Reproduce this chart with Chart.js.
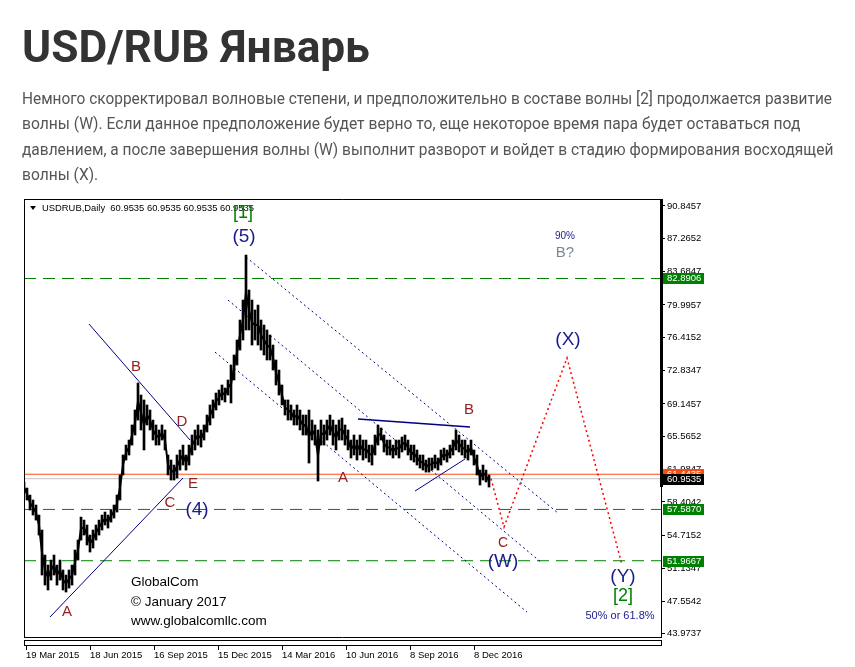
<!DOCTYPE html>
<html>
<head>
<meta charset="utf-8">
<script src="https://cdn.jsdelivr.net/npm/chart.js@4.4.1/dist/chart.umd.min.js"></script>
<style>
    html, body { margin: 0; padding: 0; background: #fff; width: 855px; height: 667px; overflow: hidden; }
    #chart { position: absolute; left: 0; top: 0; }
    .txt { position: absolute; left: 22px; white-space: nowrap; transform-origin: 0 0; }
    #title { font: bold 44px Roboto, sans-serif; color: #333; line-height: 44px; top: 25px; }
    .ln { font: 17px Roboto, sans-serif; color: #555; line-height: 17px; }
</style>
</head>
<body>
<canvas id="chart" width="855" height="667"></canvas>
<div id="title" class="txt" data-w="348">USD/RUB Январь</div>
<div class="txt ln" data-w="810" style="top:90px">Немного скорректировал волновые степени, и предположительно в составе волны [2] продолжается развитие</div>
<div class="txt ln" data-w="778" style="top:115px">волны (W). Если данное предположение будет верно то, еще некоторое время пара будет оставаться под</div>
<div class="txt ln" data-w="811" style="top:141px">давлением, а после завершения волны (W) выполнит разворот и войдет в стадию формирования восходящей</div>
<div class="txt ln" data-w="76" style="top:166px">волны (X).</div>

<script>
// USDRUB daily, one sample every 3 trading days (high / low)
const sampleStep = 3;
const priceHigh = [
    60.59, 59.93, 59.16, 58.62, 58.07, 56.97, 55.33, 52.59, 51.49, 52.04,
    52.59, 51.49, 52.04, 50.95, 50.40, 50.95, 51.49, 53.14, 54.23, 56.75,
    56.42, 55.88, 54.78, 55.33, 55.88, 56.42, 56.97, 57.30, 56.97, 57.52,
    58.07, 59.16, 61.36, 63.55, 64.64, 65.19, 66.84, 68.48, 71.44, 70.12,
    69.58, 69.03, 68.48, 67.38, 66.84, 66.29, 66.84, 66.29, 63.55, 63.00,
    62.45, 63.55, 64.10, 64.64, 63.55, 64.64, 65.74, 66.29, 66.84, 66.29,
    66.84, 67.93, 69.03, 69.58, 70.34, 70.67, 71.22, 70.89, 71.77, 73.41,
    74.51, 76.15, 78.34, 80.53, 85.46, 81.63, 80.53, 79.44, 79.98, 78.34,
    77.79, 77.25, 76.70, 75.60, 73.96, 72.86, 71.22, 69.58, 69.58, 69.03,
    68.48, 69.03, 68.48, 67.93, 67.93, 68.48, 67.38, 66.84, 66.29, 67.38,
    66.84, 67.38, 67.93, 67.38, 66.84, 67.38, 67.60, 66.84, 66.29, 65.19,
    65.74, 65.19, 65.74, 65.19, 65.19, 64.64, 64.64, 65.74, 66.84, 66.51,
    65.74, 65.19, 65.19, 64.64, 65.19, 65.19, 65.52, 65.74, 65.19, 64.64,
    64.64, 64.10, 63.55, 63.55, 63.00, 63.22, 63.22, 63.55, 63.22, 64.10,
    64.31, 64.10, 64.64, 65.19, 66.29, 65.74, 65.19, 65.19, 64.64, 65.19,
    64.10, 63.55, 61.90, 62.45, 61.90, 61.36
];
const priceLow = [
    59.49, 58.62, 57.52, 56.97, 56.42, 54.78, 50.40, 49.30, 48.76, 49.85,
    50.40, 49.30, 49.85, 48.76, 48.54, 48.97, 49.30, 50.40, 52.04, 54.23,
    54.78, 53.69, 52.92, 53.36, 54.23, 54.78, 55.33, 55.88, 55.55, 56.20,
    56.64, 57.30, 58.62, 61.36, 63.00, 63.55, 64.64, 65.74, 67.38, 66.29,
    64.10, 66.84, 66.29, 65.19, 64.64, 64.64, 65.19, 64.10, 61.36, 60.81,
    60.81, 61.03, 61.90, 62.45, 61.90, 62.45, 63.55, 64.10, 64.64, 64.42,
    65.19, 66.07, 66.84, 67.60, 68.48, 69.03, 69.58, 69.36, 70.12, 69.25,
    71.77, 73.41, 75.05, 76.15, 77.25, 77.25, 75.60, 76.15, 75.60, 75.05,
    74.51, 73.96, 73.96, 72.86, 71.22, 70.12, 69.03, 67.93, 67.38, 67.38,
    66.84, 66.84, 66.29, 65.74, 65.74, 62.67, 65.19, 64.64, 60.70, 64.64,
    64.64, 65.19, 65.74, 64.64, 64.10, 65.19, 65.19, 64.64, 64.10, 63.22,
    63.55, 63.00, 63.55, 63.00, 63.22, 62.78, 62.45, 63.55, 64.64, 65.19,
    63.88, 63.55, 63.55, 63.22, 63.55, 63.22, 63.88, 64.10, 63.55, 63.00,
    62.78, 62.45, 62.12, 61.90, 61.68, 61.68, 61.90, 62.12, 61.90, 62.45,
    63.00, 62.78, 63.22, 63.55, 64.10, 63.88, 63.55, 63.22, 63.00, 63.55,
    62.45, 61.36, 60.26, 60.81, 60.59, 60.04
];

const priceTicks = [43.9737, 47.5542, 51.1347, 54.7152, 58.4042, 61.9847, 65.5652,
    69.1457, 72.8347, 76.4152, 79.9957, 83.6847, 87.2652, 90.8457];
const dateTicks = [2, 66, 130, 194, 258, 322, 386, 450];
const dateLabels = ["19 Mar 2015", "18 Jun 2015", "16 Sep 2015", "15 Dec 2015",
    "14 Mar 2016", "10 Jun 2016", "8 Sep 2016", "8 Dec 2016"];

// horizontal levels
const greenLevels = [82.8906, 57.5870, 51.9667];
const markLevel = 61.4435;
const bidLevel = 60.9535;

// [bar, price] pairs
const trendLines = [
    [[65, 77.90], [166, 65.19]],
    [[26, 45.80], [159, 61.03]],
    [[334, 67.49], [446, 66.62]],
    [[391, 59.60], [441, 63.11]],
];
const channelLines = [
    [[222, 85.24], [534, 57.19]],
    [[204, 80.53], [518, 51.71]],
    [[191, 74.83], [503, 46.34]],
];
const forecastPath = [[467, 60.95], [480, 55.66], [543, 74.18], [598, 51.50]];

// wave marks
const waveText = ["[1]", "(5)", "B", "D", "E", "C", "(4)", "A", "A", "B", "C", "(W)", "(X)", "(Y)", "[2]", "50% or 61.8%", "90%", "B?"];
const waveBar = [219, 220, 112, 158, 169, 146, 173, 43, 319, 445, 479, 479, 544, 599, 599, 596, 541, 541];
const wavePrice = [90.07, 87.42, 73.19, 67.16, 60.37, 58.29, 57.52, 46.34, 61.03, 68.48, 53.91, 51.82, 76.15, 50.18, 48.10, 45.91, 87.55, 85.68];
const waveKind = ["primary", "inter", "minor", "minor", "minor", "minor", "inter", "minor", "minor", "minor", "minorSmall", "inter", "inter", "inter", "primary", "note", "noteSmall", "alt"];

const creditText = ["GlobalCom", "© January 2017", "www.globalcomllc.com"];
const creditBar = 107;
const creditPrice = [49.63, 47.44, 45.36];

const headerText = "USDRUB,Daily  60.9535 60.9535 60.9535 60.9535";

const waveStyle = {
    primary: { font: "18px 'Liberation Sans'", color: "#008000" },
    inter: { font: "19px 'Liberation Sans'", color: "#1c1c8c" },
    minor: { font: "15px 'Liberation Sans'", color: "#962020" },
    minorSmall: { font: "14px 'Liberation Sans'", color: "#962020" },
    note: { font: "11px 'Liberation Sans'", color: "#1c1c8c" },
    noteSmall: { font: "10px 'Liberation Sans'", color: "#1c1c8c" },
    alt: { font: "15px 'Liberation Sans'", color: "#778899" },
};

const toPoints = (pairs) => pairs.map(([x, y]) => ({ x, y }));
const flatLine = (v) => [{ x: 0, y: v }, { x: 637, y: v }];

// fit the article text lines to their measured widths
document.querySelectorAll(".txt").forEach((el) => {
    const w = parseFloat(el.dataset.w);
    el.style.transform = `scaleX(${w / el.scrollWidth})`;
});

const overlay = {
    id: "overlay",
    afterDraw(chart) {
        const { ctx, chartArea: a, scales: { x, y } } = chart;
        ctx.save();

        // frame
        ctx.strokeStyle = "#000";
        ctx.lineWidth = 1;
        ctx.beginPath();
        ctx.moveTo(a.left + 0.5, a.top + 0.5);
        ctx.lineTo(a.right, a.top + 0.5);
        ctx.moveTo(a.left + 0.5, a.top);
        ctx.lineTo(a.left + 0.5, a.bottom + 1);
        ctx.moveTo(a.left, a.bottom + 0.5);
        ctx.lineTo(a.right, a.bottom + 0.5);
        ctx.moveTo(a.right + 0.5, a.top);
        ctx.lineTo(a.right + 0.5, a.bottom + 1);
        ctx.stroke();
        ctx.strokeRect(a.left + 0.5, a.bottom + 3.5, a.right - a.left, 5);
        ctx.fillStyle = "#000";
        ctx.fillRect(a.right - 1, a.top, 3, 288);

        // time ticks under the strip
        ctx.beginPath();
        x.ticks.forEach((t) => {
            const px = Math.round(x.getPixelForValue(t.value)) + 0.5;
            ctx.moveTo(px, a.bottom + 9);
            ctx.lineTo(px, a.bottom + 13);
        });
        ctx.stroke();

        // header
        ctx.beginPath();
        ctx.moveTo(a.left + 6, a.top + 7);
        ctx.lineTo(a.left + 12, a.top + 7);
        ctx.lineTo(a.left + 9, a.top + 11);
        ctx.closePath();
        ctx.fill();
        ctx.font = "9.5px 'Liberation Sans'";
        ctx.textAlign = "left";
        ctx.textBaseline = "middle";
        ctx.fillText(headerText, a.left + 18, a.top + 9, 212);

        // wave labels
        ctx.textAlign = "center";
        waveText.forEach((t, i) => {
            const st = waveStyle[waveKind[i]];
            ctx.font = st.font;
            ctx.fillStyle = st.color;
            ctx.fillText(t, x.getPixelForValue(waveBar[i]), y.getPixelForValue(wavePrice[i]));
        });

        // credits
        ctx.textAlign = "left";
        ctx.font = "13.5px 'Liberation Sans'";
        ctx.fillStyle = "#000";
        creditText.forEach((t, i) => {
            ctx.fillText(t, x.getPixelForValue(creditBar), y.getPixelForValue(creditPrice[i]));
        });

        // price boxes on the axis
        ctx.font = "9.5px 'Liberation Sans'";
        const box = (v, color) => {
            const py = y.getPixelForValue(v);
            ctx.fillStyle = color;
            ctx.fillRect(a.right + 2, Math.round(py) - 5, 41, 11);
            ctx.fillStyle = "#fff";
            ctx.fillText(v.toFixed(4), a.right + 6, Math.round(py) + 0.5);
        };
        greenLevels.forEach((v) => box(v, "#008000"));
        box(markLevel, "#ff4a12");
        box(bidLevel, "#000");

        ctx.restore();
    },
};

Chart.defaults.font.family = "'Liberation Sans', Arial, sans-serif";

const datasets = [
    {
        type: "bar",
        data: priceHigh.map((h, i) => ({ x: i * sampleStep, y: [priceLow[i], h] })),
        backgroundColor: "#000",
        borderWidth: 0,
        barThickness: 2,
        order: 0,
    },
    {
        // joins neighbouring bars so the series reads as one jagged trace
        type: "line",
        data: priceHigh.map((h, i) => ({ x: i * sampleStep, y: (h + priceLow[i]) / 2 })),
        borderColor: "#000",
        borderWidth: 2,
        pointRadius: 0,
        order: 0,
    },
    {
        type: "line",
        data: toPoints(forecastPath),
        borderColor: "#ff0000",
        borderWidth: 1.5,
        borderDash: [2, 3],
        pointRadius: 0,
        order: 1,
    },
];
trendLines.forEach((l, i) => datasets.push({
    type: "line",
    data: toPoints(l),
    borderColor: "#000080",
    borderWidth: i === 2 ? 1.6 : 1,
    pointRadius: 0,
    order: 2,
}));
channelLines.forEach((l) => datasets.push({
    type: "line",
    data: toPoints(l),
    borderColor: "#000080",
    borderWidth: 1,
    borderDash: [2, 3],
    pointRadius: 0,
    order: 2,
}));
greenLevels.forEach((v) => datasets.push({
    type: "line",
    data: flatLine(v),
    borderColor: "#008000",
    borderWidth: 1,
    borderDash: [12, 7],
    pointRadius: 0,
    order: 3,
}));
datasets.push({
    type: "line", data: flatLine(markLevel), borderColor: "#ff4a12",
    borderWidth: 1, pointRadius: 0, order: 3,
});
datasets.push({
    type: "line", data: flatLine(bidLevel), borderColor: "#c0c0c0",
    borderWidth: 1, pointRadius: 0, order: 3,
});

new Chart(document.getElementById("chart"), {
    type: "bar",
    data: { datasets },
    options: {
        responsive: false,
        animation: false,
        layout: { padding: { top: 199, left: 24, right: 0, bottom: 0 } },
        plugins: { legend: { display: false }, tooltip: { enabled: false } },
        scales: {
            x: {
                type: "linear",
                min: 0,
                max: 637,
                offset: false,
                grid: { display: false, drawTicks: false, offset: false },
                border: { display: false },
                afterBuildTicks: (s) => { s.ticks = dateTicks.map((v) => ({ value: v })); },
                afterFit: (s) => { s.height = 30; },
                ticks: {
                    align: "start",
                    padding: 13,
                    autoSkip: false,
                    maxRotation: 0,
                    color: "#000",
                    font: { size: 9.5 },
                    callback: (v, i) => dateLabels[i],
                },
            },
            y: {
                type: "linear",
                position: "right",
                min: 43.61,
                max: 91.60,
                grid: { drawOnChartArea: false, tickLength: 4, color: "#000" },
                border: { display: false },
                afterBuildTicks: (s) => { s.ticks = priceTicks.map((v) => ({ value: v })); },
                afterFit: (s) => { s.width = 194; },
                ticks: {
                    padding: 2,
                    autoSkip: false,
                    color: "#000",
                    font: { size: 9.5 },
                    callback: (v) => v.toFixed(4),
                },
            },
        },
    },
    plugins: [overlay],
});
</script>
</body>
</html>
